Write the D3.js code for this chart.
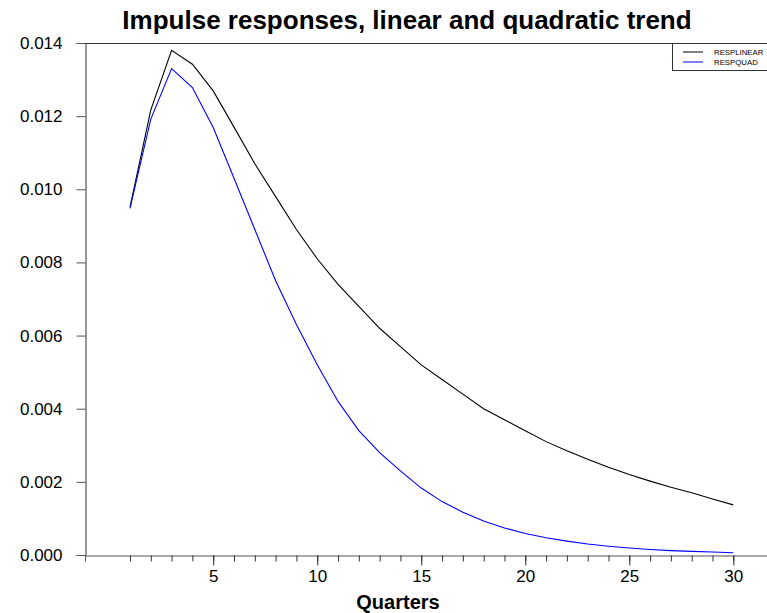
<!DOCTYPE html>
<html>
<head>
<meta charset="utf-8">
<script src="https://cdn.jsdelivr.net/npm/d3@7"></script>
<style>
  html, body { margin: 0; padding: 0; background: #fff; }
  svg { display: block; font-family: "Liberation Sans", Arial, sans-serif; }
</style>
</head>
<body>
<svg id="chart" width="767" height="613"></svg>
<script>
const title = "Impulse responses, linear and quadratic trend";
const xLabel = "Quarters";
const quarters = d3.range(1, 31);
const seriesNames = ["RESPLINEAR", "RESPQUAD"];
const seriesColors = ["#000000", "#0000ff"];
const respLinear = [0.00951, 0.01217, 0.01380, 0.01342, 0.01269, 0.01170, 0.01070, 0.00980, 0.00890, 0.00810,
                    0.00740, 0.00680, 0.00620, 0.00570, 0.00520, 0.00480, 0.00440, 0.00400, 0.00370, 0.00340,
                    0.00310, 0.00285, 0.00262, 0.00240, 0.00220, 0.00202, 0.00185, 0.00170, 0.00153, 0.00137];
const respQuad = [0.00948, 0.01192, 0.01330, 0.01278, 0.01169, 0.01030, 0.00890, 0.00750, 0.00630, 0.00520,
                  0.00420, 0.00340, 0.00280, 0.00230, 0.00183, 0.00146, 0.00117, 0.00093, 0.00074, 0.00059,
                  0.00047, 0.00038, 0.00030, 0.00024, 0.00019, 0.00015, 0.00012, 0.00010, 0.00008, 0.00006];
const xTickLabels = [5, 10, 15, 20, 25, 30];
const yTicks = [0, 0.002, 0.004, 0.006, 0.008, 0.010, 0.012, 0.014];

const svg = d3.select("#chart");
const mLeft = 85, mRight = 767, mTop = 43, mBottom = 555;

const x = d3.scaleLinear().domain([-1.163, 31.62]).range([mLeft, mRight]);
const y = d3.scaleLinear().domain([0, 0.014]).range([mBottom, mTop]);

// Title
svg.append("text").attr("x", 407).attr("y", 29).attr("text-anchor", "middle")
  .attr("font-weight", "bold").attr("font-size", 26).text(title);

// Top frame line
svg.append("line").attr("x1", mLeft).attr("x2", mRight).attr("y1", mTop + 0.5).attr("y2", mTop + 0.5)
  .attr("stroke", "#333").attr("stroke-width", 1);

// Y axis
const yAxis = d3.axisLeft(y).tickValues(yTicks).tickFormat(d3.format(".3f")).tickSize(9).tickPadding(14);
const gy = svg.append("g").attr("transform", `translate(${mLeft + 0.5},0)`).call(yAxis);
gy.select(".domain").attr("stroke", "#333");
gy.selectAll(".tick line").attr("stroke", "#555");
gy.selectAll("text").attr("font-size", 17).attr("font-family", "Liberation Sans, Arial, sans-serif").attr("fill", "#000");

// X axis minor ticks
const gx = svg.append("g").attr("transform", `translate(0,${mBottom + 0.5})`);
gx.call(d3.axisBottom(x).tickValues(quarters).tickSize(6).tickFormat(""));
gx.select(".domain").attr("stroke", "#555");
gx.selectAll(".tick line").attr("stroke", "#333");
const gx2 = svg.append("g").attr("transform", `translate(0,${mBottom + 0.5})`);
gx2.call(d3.axisBottom(x).tickValues(xTickLabels).tickSize(10).tickPadding(4));
gx2.select(".domain").remove();
gx2.selectAll(".tick line").attr("stroke", "#333");
gx2.selectAll("text").attr("font-size", 17).attr("font-family", "Liberation Sans, Arial, sans-serif").attr("fill", "#000");

// X label
svg.append("text").attr("x", 398).attr("y", 609).attr("text-anchor", "middle")
  .attr("font-weight", "bold").attr("font-size", 20).text(xLabel);

// Lines
const line = d3.line().x((d, i) => x(quarters[i])).y(d => y(d));
[respLinear, respQuad].forEach((s, k) => {
  svg.append("path").datum(s).attr("d", line).attr("fill", "none")
    .attr("stroke", seriesColors[k]).attr("stroke-width", 1.1);
});

// Legend
const lg = svg.append("g");
lg.append("rect").attr("x", 672.5).attr("y", 43.5).attr("width", 100).attr("height", 27)
  .attr("fill", "#fff").attr("stroke", "#333").attr("stroke-width", 1);
seriesNames.forEach((n, k) => {
  const yy = 52 + k * 10;
  lg.append("line").attr("x1", 683).attr("x2", 703).attr("y1", yy).attr("y2", yy)
    .attr("stroke", seriesColors[k]).attr("stroke-width", 1);
  lg.append("text").attr("x", 714).attr("y", yy + 2.8).attr("font-size", 7.8).text(n);
});
</script>
</body>
</html>
